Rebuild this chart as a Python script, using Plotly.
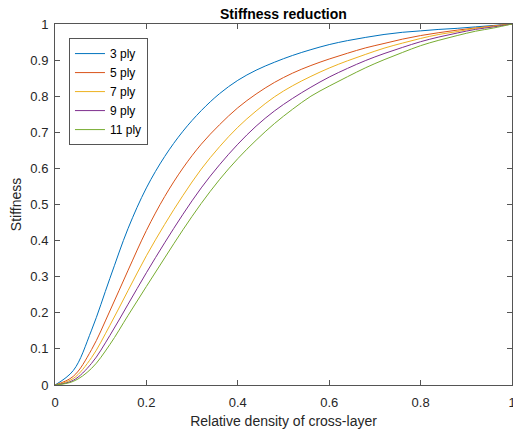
import plotly.graph_objects as go

x = [0, 0.04, 0.08, 0.12, 0.16, 0.20, 0.24, 0.28, 0.32, 0.36, 0.40, 0.44, 0.48,
     0.52, 0.56, 0.60, 0.64, 0.68, 0.72, 0.76, 0.80, 0.84, 0.88, 0.92, 0.96, 1.00]

ply3 = [0, 0.040, 0.152, 0.295, 0.434, 0.546, 0.633, 0.703, 0.760, 0.807, 0.844, 0.872, 0.894,
        0.913, 0.929, 0.943, 0.954, 0.963, 0.971, 0.977, 0.981, 0.985, 0.988, 0.992, 0.996, 1.0]
ply5 = [0, 0.024, 0.098, 0.205, 0.318, 0.428, 0.522, 0.601, 0.667, 0.721, 0.768, 0.806, 0.838,
        0.864, 0.885, 0.903, 0.919, 0.934, 0.946, 0.958, 0.968, 0.976, 0.983, 0.989, 0.995, 1.0]
ply7 = [0, 0.018, 0.076, 0.165, 0.262, 0.358, 0.445, 0.525, 0.598, 0.660, 0.714, 0.759, 0.798,
        0.829, 0.855, 0.878, 0.898, 0.916, 0.933, 0.947, 0.960, 0.971, 0.979, 0.988, 0.994, 1.0]
ply9 = [0, 0.013, 0.060, 0.137, 0.224, 0.311, 0.394, 0.473, 0.546, 0.610, 0.667, 0.717, 0.759,
        0.794, 0.825, 0.853, 0.877, 0.899, 0.918, 0.935, 0.951, 0.964, 0.975, 0.985, 0.992, 1.0]
ply11 = [0, 0.010, 0.046, 0.112, 0.193, 0.273, 0.352, 0.430, 0.503, 0.569, 0.627, 0.678, 0.724,
         0.764, 0.800, 0.828, 0.854, 0.879, 0.901, 0.921, 0.940, 0.955, 0.968, 0.980, 0.989, 1.0]

series_names = ["3 ply", "5 ply", "7 ply", "9 ply", "11 ply"]
series_values = [ply3, ply5, ply7, ply9, ply11]
colors = ["#0072BD", "#D95319", "#EDB120", "#7E2F8E", "#77AC30"]

x_ticks = [0, 0.2, 0.4, 0.6, 0.8, 1]
x_ticklabels = ["0", "0.2", "0.4", "0.6", "0.8", "1"]
y_ticks = [0, 0.1, 0.2, 0.3, 0.4, 0.5, 0.6, 0.7, 0.8, 0.9, 1]
y_ticklabels = ["0", "0.1", "0.2", "0.3", "0.4", "0.5", "0.6", "0.7", "0.8", "0.9", "1"]

fig = go.Figure()
for name, vals, c in zip(series_names, series_values, colors):
    fig.add_trace(go.Scatter(x=x, y=vals, mode="lines", name=name,
                             line=dict(color=c, width=1, shape="spline", smoothing=1.0)))

axis_common = dict(
    showline=True, linecolor="#555555", linewidth=1, mirror="ticks",
    ticks="inside", ticklen=5, tickcolor="#555555", tickwidth=1,
    showgrid=False, zeroline=False, automargin=False,
    tickfont=dict(family="Liberation Sans, Arial, sans-serif", size=13, color="#262626"),
)

fig.update_layout(
    width=513, height=434,
    margin=dict(l=55, r=1, t=24, b=49),
    paper_bgcolor="white", plot_bgcolor="white",
    font=dict(family="Liberation Sans, Arial, sans-serif", color="#262626"),
    title=dict(text="<b>Stiffness reduction</b>", x=0.5525, xanchor="center",
               y=1 - 14 / 434, yanchor="middle", yref="container",
               font=dict(size=14, color="black")),
    xaxis=dict(range=[0, 1], tickvals=x_ticks, ticktext=x_ticklabels,
               ticklabelstandoff=5, ticklabeloverflow="allow",
               title=dict(text="Relative density of cross-layer", font=dict(size=14), standoff=7),
               **axis_common),
    yaxis=dict(range=[0, 1], tickvals=y_ticks, ticktext=y_ticklabels,
               title=dict(text="Stiffness", font=dict(size=14), standoff=5),
               ticklabelstandoff=3,
               **axis_common),
    legend=dict(x=0.0306, y=0.961, xanchor="left", yanchor="top",
                bordercolor="#555555", borderwidth=1, bgcolor="white",
                font=dict(size=12, color="black"), tracegroupgap=0),
    showlegend=True,
)

fig.write_html("out.html", config={"displayModeBar": False},
               post_script="document.body.style.margin='0';document.body.style.overflow='hidden';")
